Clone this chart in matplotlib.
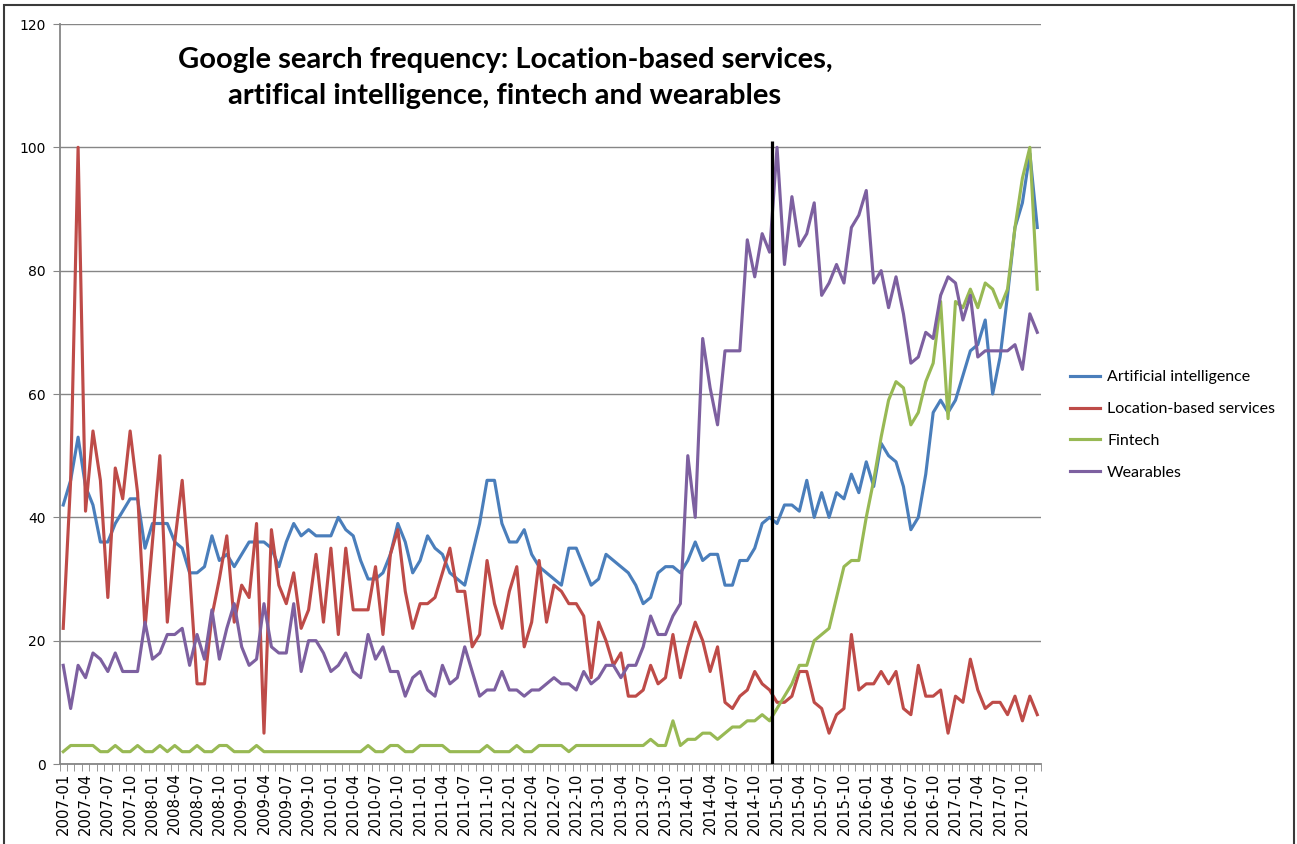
import numpy as np
import matplotlib
matplotlib.use("Agg")
import matplotlib.pyplot as plt
from matplotlib.patches import Rectangle

# categorias: meses de 2007-01 a 2017-12
anos = range(2007, 2018)
meses = ["%d-%02d" % (a, m) for a in anos for m in range(1, 13)]

# valores (um ano por linha)
ai = [42, 46, 53, 45, 42, 36, 36, 39, 41, 43, 43, 35,
      39, 39, 39, 36, 35, 31, 31, 32, 37, 33, 34, 32,
      34, 36, 36, 36, 35, 32, 36, 39, 37, 38, 37, 37,
      37, 40, 38, 37, 33, 30, 30, 31, 34, 39, 36, 31,
      33, 37, 35, 34, 31, 30, 29, 34, 39, 46, 46, 39,
      36, 36, 38, 34, 32, 31, 30, 29, 35, 35, 32, 29,
      30, 34, 33, 32, 31, 29, 26, 27, 31, 32, 32, 31,
      33, 36, 33, 34, 34, 29, 29, 33, 33, 35, 39, 40,
      39, 42, 42, 41, 46, 40, 44, 40, 44, 43, 47, 44,
      49, 45, 52, 50, 49, 45, 38, 40, 47, 57, 59, 57,
      59, 63, 67, 68, 72, 60, 66, 76, 87, 91, 99, 87]

lbs = [22, 46, 100, 41, 54, 46, 27, 48, 43, 54, 44, 22,
       36, 50, 23, 36, 46, 31, 13, 13, 24, 30, 37, 23,
       29, 27, 39, 5, 38, 29, 26, 31, 22, 25, 34, 23,
       35, 21, 35, 25, 25, 25, 32, 21, 34, 38, 28, 22,
       26, 26, 27, 31, 35, 28, 28, 19, 21, 33, 26, 22,
       28, 32, 19, 23, 33, 23, 29, 28, 26, 26, 24, 14,
       23, 20, 16, 18, 11, 11, 12, 16, 13, 14, 21, 14,
       19, 23, 20, 15, 19, 10, 9, 11, 12, 15, 13, 12,
       10, 10, 11, 15, 15, 10, 9, 5, 8, 9, 21, 12,
       13, 13, 15, 13, 15, 9, 8, 16, 11, 11, 12, 5,
       11, 10, 17, 12, 9, 10, 10, 8, 11, 7, 11, 8]

fintech = [2, 3, 3, 3, 3, 2, 2, 3, 2, 2, 3, 2,
           2, 3, 2, 3, 2, 2, 3, 2, 2, 3, 3, 2,
           2, 2, 3, 2, 2, 2, 2, 2, 2, 2, 2, 2,
           2, 2, 2, 2, 2, 3, 2, 2, 3, 3, 2, 2,
           3, 3, 3, 3, 2, 2, 2, 2, 2, 3, 2, 2,
           2, 3, 2, 2, 3, 3, 3, 3, 2, 3, 3, 3,
           3, 3, 3, 3, 3, 3, 3, 4, 3, 3, 7, 3,
           4, 4, 5, 5, 4, 5, 6, 6, 7, 7, 8, 7,
           9, 11, 13, 16, 16, 20, 21, 22, 27, 32, 33, 33,
           40, 46, 53, 59, 62, 61, 55, 57, 62, 65, 75, 56,
           75, 74, 77, 74, 78, 77, 74, 77, 87, 95, 100, 77]

wearables = [16, 9, 16, 14, 18, 17, 15, 18, 15, 15, 15, 23,
             17, 18, 21, 21, 22, 16, 21, 17, 25, 17, 22, 26,
             19, 16, 17, 26, 19, 18, 18, 26, 15, 20, 20, 18,
             15, 16, 18, 15, 14, 21, 17, 19, 15, 15, 11, 14,
             15, 12, 11, 16, 13, 14, 19, 15, 11, 12, 12, 15,
             12, 12, 11, 12, 12, 13, 14, 13, 13, 12, 15, 13,
             14, 16, 16, 14, 16, 16, 19, 24, 21, 21, 24, 26,
             50, 40, 69, 61, 55, 67, 67, 67, 85, 79, 86, 83,
             100, 81, 92, 84, 86, 91, 76, 78, 81, 78, 87, 89,
             93, 78, 80, 74, 79, 73, 65, 66, 70, 69, 76, 79,
             78, 72, 76, 66, 67, 67, 67, 67, 68, 64, 73, 70]

series = ["Artificial intelligence", "Location-based services", "Fintech", "Wearables"]
cores = ["#4A7EBB", "#BE4B48", "#98B954", "#7D60A0"]

titulo = ("Google search frequency: Location-based services,\n"
          "artifical intelligence, fintech and wearables")

cinza = "#868686"

fig = plt.figure(figsize=(12.97, 8.44), dpi=100)
ax = fig.add_axes([59.5 / 1297, 80 / 844, (1041 - 59.5) / 1297, 740 / 844])

x = np.arange(len(meses))
for dados, nome, cor in zip([ai, lbs, fintech, wearables], series, cores):
    ax.plot(x, dados, color=cor, lw=2.25, label=nome, solid_joinstyle="round")

# linha vertical preta (inicio de 2015)
ax.vlines(95.3, 0, 101, color="black", lw=2.3, zorder=5)

ax.set_xlim(-0.5, 131.5)
ax.set_ylim(0, 120)
ax.set_yticks(range(0, 121, 20))
ax.yaxis.grid(True, color=cinza, lw=1)
ax.set_axisbelow(True)

for lado in ["top", "right"]:
    ax.spines[lado].set_visible(False)
for lado in ["left", "bottom"]:
    ax.spines[lado].set_color(cinza)
    ax.spines[lado].set_linewidth(1.3)

ax.tick_params(axis="y", length=5, color=cinza, labelsize=10, pad=5)
ax.set_xticks(x[::3])
ax.set_xticklabels(meses[::3], rotation=90, fontsize=10.7)
ax.set_xticks(np.arange(-0.5, len(meses), 1), minor=True)
ax.tick_params(axis="x", which="major", length=0, pad=6)
ax.tick_params(axis="x", which="minor", length=5, color=cinza)

fig.text(505 / 1297, 1 - 78 / 844, titulo, ha="center", va="center",
         fontsize=21, fontweight="bold", family="Lato", linespacing=1.5)

ax.legend(loc="center left", bbox_to_anchor=(1070 / 1297, 1 - 425 / 844),
          bbox_transform=fig.transFigure, frameon=False,
          prop={"family": "Lato", "size": 11.5}, handlelength=1.88,
          handletextpad=0.44, labelspacing=1.1, borderpad=0, borderaxespad=0)

# moldura da area do grafico
fig.patches.append(Rectangle((4 / 1297, -0.05), 1290 / 1297, 1.05 - 5 / 844,
                             transform=fig.transFigure, fill=False,
                             edgecolor="#3a3a3a", lw=1.5))

fig.savefig("out.png", dpi=100)
